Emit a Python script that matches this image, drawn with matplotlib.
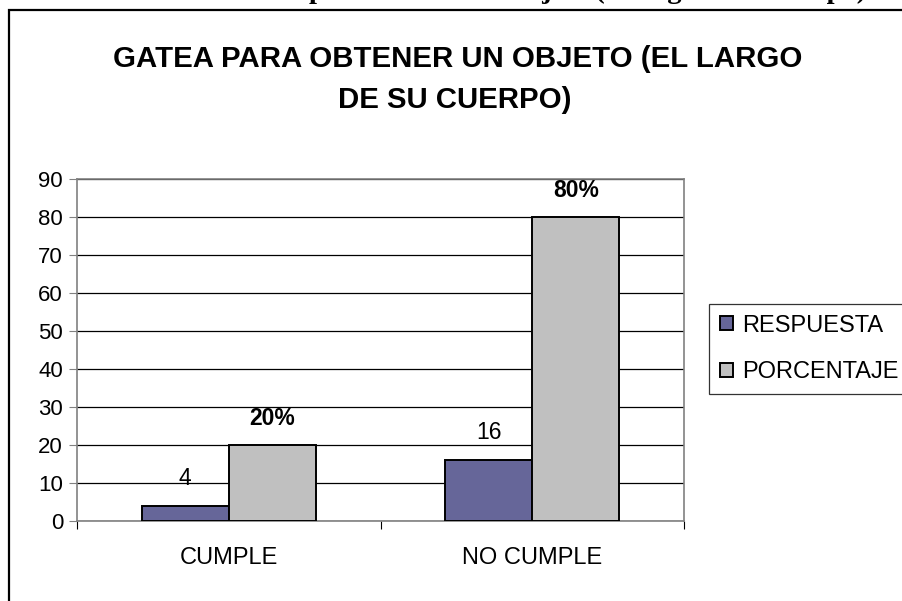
import matplotlib
matplotlib.use("Agg")
import matplotlib.pyplot as plt
from matplotlib.patches import Rectangle
import numpy as np

categories = ["CUMPLE", "NO CUMPLE"]
respuesta = [4, 16]
porcentaje = [20, 80]
porcentaje_labels = ["20%", "80%"]
series_names = ["RESPUESTA", "PORCENTAJE"]
yticks = [0, 10, 20, 30, 40, 50, 60, 70, 80, 90]
title_lines = ["GATEA PARA OBTENER UN OBJETO (EL LARGO", "DE SU CUERPO)"]
caption = "Gatea para obtener un objeto (el largo de su cuerpo)"

W, H = 902, 601
plt.rcParams['font.family'] = ['Liberation Sans', 'DejaVu Sans']
fig = plt.figure(figsize=(W / 100, H / 100), dpi=100)

# outer frame
fig.patches.append(Rectangle((8.5 / W, -0.1), 1.2, 1 - 9.5 / H + 0.1, transform=fig.transFigure,
                             fill=False, edgecolor='black', linewidth=1.6))
# cropped caption at top
fig.text(866 / W, 1 + 1.5 / H, caption, ha='right', va='baseline',
         family='Liberation Serif', fontweight='bold', fontsize=20.5)

ax = fig.add_axes([77 / W, 1 - 521 / H, (684 - 77) / W, (521 - 179) / H])
x = np.arange(len(categories))
bw = 0.287
b1 = ax.bar(x - bw / 2, respuesta, bw, color='#666699', edgecolor='black', linewidth=1.4,
            label=series_names[0], zorder=3)
b2 = ax.bar(x + bw / 2, porcentaje, bw, color='#C0C0C0', edgecolor='black', linewidth=1.4,
            label=series_names[1], zorder=3)

for rect, v in zip(b1, respuesta):
    ax.annotate(str(v), (rect.get_x() + rect.get_width() / 2, v), xytext=(0, 11.5),
                textcoords='offset points', ha='center', va='bottom', fontsize=16.5)
for rect, v, lab in zip(b2, porcentaje, porcentaje_labels):
    ax.annotate(lab, (rect.get_x() + rect.get_width() / 2, v), xytext=(0, 10.5),
                textcoords='offset points', ha='center', va='bottom', fontsize=16.5,
                fontweight='bold')

ax.set_ylim(0, 90)
ax.set_xlim(-0.5, 1.5)
ax.set_yticks(yticks)
ax.set_yticklabels([str(t) for t in yticks], fontsize=16)
ax.set_xticks(x)
ax.set_xticklabels(categories, fontsize=17)
ax.tick_params(axis='x', length=0, pad=19)
ax.tick_params(axis='y', length=6, width=0.8, color='#808080', pad=4)
ax.set_xticks([-0.5, 0.5, 1.5], minor=True)
ax.tick_params(axis='x', which='minor', length=6, width=0.8, color='black')
ax.yaxis.grid(True, color='black', linewidth=0.9, zorder=0)
ax.set_axisbelow(True)
for s in ax.spines.values():
    s.set_color('#808080')
    s.set_linewidth(1.2)

fig.text(458 / W, 1 - 59 / H, title_lines[0], ha='center', va='center', fontsize=21.2,
         fontweight='bold')
fig.text(455 / W, 1 - 100 / H, title_lines[1], ha='center', va='center', fontsize=21.2,
         fontweight='bold')

leg = fig.legend(handles=[b1, b2], labels=series_names, loc='upper left',
                 bbox_to_anchor=(709 / W, 1 - 304 / H), fontsize=17, frameon=True,
                 fancybox=False, edgecolor='black', handlelength=0.55, handleheight=0.55,
                 handletextpad=0.4, borderpad=0.45, labelspacing=1.05, borderaxespad=0)
leg.get_frame().set_linewidth(0.9)

fig.savefig("out.png", dpi=100)
